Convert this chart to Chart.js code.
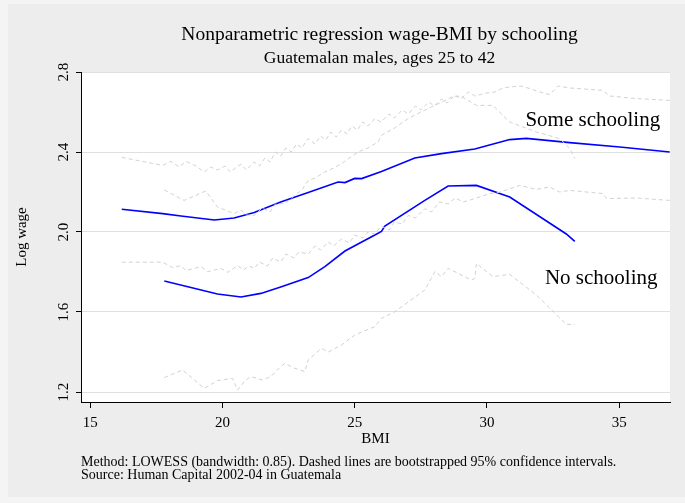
<!DOCTYPE html>
<html>
<head>
<meta charset="utf-8">
<script src="https://cdn.jsdelivr.net/npm/chart.js@4.4.0/dist/chart.umd.min.js"></script>
<style>
  html, body { margin: 0; padding: 0; background: #f4f4f4; }
  #wrap { width: 685px; height: 503px; }
</style>
</head>
<body>
<div id="wrap"><canvas id="lowessChart" width="685" height="503"></canvas></div>
<script>
// values (BMI, log wage)
const someBmi = [16.19, 17.74, 18.43, 19.69, 20.44, 21.2, 22.2, 23.24, 24.37, 24.63, 25.0, 25.26, 26.01, 27.27, 28.28, 29.54, 30.86, 31.49, 33.13, 35.02, 36.91];
const someWage = [2.114, 2.092, 2.08, 2.06, 2.07, 2.097, 2.15, 2.197, 2.25, 2.247, 2.268, 2.267, 2.302, 2.37, 2.392, 2.415, 2.462, 2.468, 2.447, 2.425, 2.40];

const noBmi = [17.8, 19.81, 20.7, 21.45, 22.2, 23.24, 23.87, 24.63, 25.76, 26.01, 26.14, 27.65, 28.53, 29.6, 30.86, 33.0, 33.32];
const noWage = [1.755, 1.69, 1.675, 1.693, 1.725, 1.772, 1.827, 1.905, 1.985, 2.003, 2.03, 2.158, 2.23, 2.233, 2.175, 1.99, 1.953];

const someHiBmi = [16.19, 17.74, 18.05, 18.36, 18.62, 19.0, 19.31, 19.55, 19.81, 20.1, 20.3, 20.44, 20.7, 20.9, 21.2, 21.4, 21.6, 21.8, 22.0, 22.2, 22.4, 22.6, 22.8, 23.0, 23.24, 23.5, 23.7, 23.9, 24.1, 24.3, 24.5, 24.7, 24.9, 25.1, 25.3, 25.5, 25.76, 26.0, 26.3, 26.5, 26.8, 27.02, 27.3, 27.5, 27.8, 28.0, 28.28, 28.5, 28.8, 29.0, 29.3, 29.54, 29.98, 30.3, 30.6, 30.86, 31.3, 31.62, 32.0, 32.37, 32.69, 33.13, 34.39, 34.64, 35.65, 36.91];
const someHiWage = [2.373, 2.333, 2.353, 2.325, 2.353, 2.33, 2.30, 2.325, 2.31, 2.33, 2.30, 2.315, 2.34, 2.31, 2.35, 2.33, 2.37, 2.35, 2.40, 2.38, 2.42, 2.40, 2.44, 2.42, 2.467, 2.44, 2.48, 2.46, 2.50, 2.475, 2.51, 2.49, 2.53, 2.51, 2.55, 2.53, 2.567, 2.55, 2.59, 2.57, 2.61, 2.59, 2.63, 2.61, 2.65, 2.63, 2.665, 2.645, 2.685, 2.665, 2.70, 2.68, 2.695, 2.70, 2.72, 2.725, 2.73, 2.717, 2.70, 2.687, 2.73, 2.72, 2.708, 2.68, 2.667, 2.658];

const someLoBmi = [16.19, 17.74, 18.11, 18.43, 18.62, 19.18, 19.44, 19.94, 20.19, 20.57, 20.8, 21.0, 21.2, 21.4, 21.7, 21.9, 22.2, 22.4, 22.7, 22.9, 23.24, 23.5, 23.7, 24.0, 24.2, 24.5, 24.8, 25.0, 25.3, 25.5, 25.76, 26.0, 26.3, 26.5, 26.8, 27.02, 27.3, 27.65, 27.9, 28.2, 28.53, 28.8, 29.1, 29.54, 30.1, 30.5, 31.24, 31.87, 32.37, 32.75, 33.13, 34.39, 34.52, 35.65, 36.91];
const someLoWage = [1.849, 1.849, 1.822, 1.832, 1.807, 1.827, 1.802, 1.818, 1.798, 1.832, 1.81, 1.83, 1.818, 1.85, 1.83, 1.87, 1.85, 1.89, 1.87, 1.90, 1.89, 1.93, 1.91, 1.95, 1.93, 1.965, 1.945, 1.985, 1.97, 2.00, 1.99, 2.03, 2.01, 2.05, 2.04, 2.083, 2.07, 2.117, 2.10, 2.15, 2.14, 2.17, 2.15, 2.167, 2.192, 2.20, 2.233, 2.213, 2.225, 2.2, 2.208, 2.192, 2.167, 2.17, 2.158];

const noHiBmi = [17.8, 18.55, 19.37, 19.81, 20.44, 20.7, 20.9, 21.2, 21.5, 21.8, 22.0, 22.36, 22.7, 23.0, 23.24, 23.5, 23.87, 24.2, 24.5, 24.8, 25.13, 25.5, 25.88, 26.01, 26.5, 27.02, 27.5, 27.9, 28.3, 28.66, 29.0, 29.6, 30.22, 30.86, 31.87, 32.75, 33.13, 33.32];
const noHiWage = [2.21, 2.158, 2.205, 2.125, 2.092, 2.11, 2.085, 2.083, 2.12, 2.10, 2.14, 2.142, 2.18, 2.21, 2.258, 2.27, 2.30, 2.32, 2.342, 2.37, 2.40, 2.42, 2.45, 2.483, 2.52, 2.567, 2.60, 2.625, 2.65, 2.675, 2.68, 2.633, 2.633, 2.55, 2.50, 2.467, 2.417, 2.367];

const noLoBmi = [17.8, 18.49, 19.31, 19.81, 20.38, 20.57, 20.82, 21.07, 21.51, 21.83, 22.2, 22.36, 22.7, 23.11, 23.24, 23.74, 24.0, 24.5, 25.0, 25.76, 26.01, 26.52, 27.65, 28.03, 28.28, 28.53, 29.41, 29.54, 29.6, 30.22, 30.86, 31.87, 33.0, 33.32];
const noLoWage = [1.272, 1.31, 1.218, 1.257, 1.268, 1.21, 1.252, 1.277, 1.26, 1.277, 1.327, 1.343, 1.32, 1.302, 1.36, 1.418, 1.40, 1.435, 1.485, 1.527, 1.568, 1.602, 1.71, 1.802, 1.777, 1.818, 1.76, 1.768, 1.843, 1.777, 1.788, 1.685, 1.538, 1.538];

const xTicks = [15, 20, 25, 30, 35];
const yTicks = [1.2, 1.6, 2.0, 2.4, 2.8];

const serif = "'Liberation Serif', 'Times New Roman', serif";

function pts(xs, ys) {
  return xs.map(function (x, i) { return { x: x, y: ys[i] }; });
}

function band(xs, ys) {
  return {
    data: pts(xs, ys),
    borderColor: "#d2d2d2",
    borderWidth: 1,
    borderDash: [4, 3],
    pointRadius: 0,
    fill: false,
    tension: 0,
  };
}

function fit(xs, ys) {
  return {
    data: pts(xs, ys),
    borderColor: "#0000ff",
    borderWidth: 1.6,
    pointRadius: 0,
    fill: false,
    tension: 0,
  };
}

// background, y labels, titles and notes
const decor = {
  id: "decor",
  beforeDraw: function (chart) {
    const c = chart.ctx;
    const a = chart.chartArea;
    c.save();
    c.fillStyle = "#ededed";
    c.fillRect(8, 4, chart.width - 8, chart.height - 10);
    c.fillStyle = "#ffffff";
    c.fillRect(a.left, a.top, a.right - a.left, a.bottom - a.top);
    c.restore();
  },
  afterDraw: function (chart) {
    const c = chart.ctx;
    const a = chart.chartArea;
    const xs = chart.scales.x;
    const ys = chart.scales.y;
    c.save();
    c.fillStyle = "#000000";
    c.textAlign = "center";
    c.textBaseline = "middle";

    const mid = (a.left + a.right) / 2;
    c.font = "19.5px " + serif;
    c.fillText("Nonparametric regression wage-BMI by schooling", mid + 4, 35);
    c.font = "17.5px " + serif;
    c.fillText("Guatemalan males, ages 25 to 42", mid + 4, 58);

    // y tick labels, rotated like the original
    c.font = "15px " + serif;
    yTicks.forEach(function (v) {
      c.save();
      c.translate(a.left - 17, ys.getPixelForValue(v));
      c.rotate(-Math.PI / 2);
      c.fillText(v.toFixed(1), 0, 0);
      c.restore();
    });

    c.save();
    c.translate(22, (a.top + a.bottom) / 2);
    c.rotate(-Math.PI / 2);
    c.fillText("Log wage", 0, 0);
    c.restore();

    c.fillText("BMI", mid, 439);

    c.font = "21px " + serif;
    c.fillText("Some schooling", xs.getPixelForValue(34.0), ys.getPixelForValue(2.557));
    c.fillText("No schooling", xs.getPixelForValue(34.32), ys.getPixelForValue(1.77));

    c.textAlign = "left";
    c.font = "14px " + serif;
    c.fillText("Method: LOWESS (bandwidth: 0.85). Dashed lines are bootstrapped 95% confidence intervals.", a.left, 462);
    c.fillText("Source: Human Capital 2002-04 in Guatemala", a.left, 475);
    c.restore();
  },
};

const ctx = document.getElementById("lowessChart").getContext("2d");
new Chart(ctx, {
  type: "line",
  data: {
    datasets: [
      band(someHiBmi, someHiWage),
      band(someLoBmi, someLoWage),
      band(noHiBmi, noHiWage),
      band(noLoBmi, noLoWage),
      fit(someBmi, someWage),
      fit(noBmi, noWage),
    ],
  },
  options: {
    responsive: false,
    animation: false,
    layout: { padding: { left: 0, right: 15, top: 72, bottom: 0 } },
    plugins: {
      legend: { display: false },
      tooltip: { enabled: false },
    },
    scales: {
      x: {
        type: "linear",
        min: 14.65,
        max: 36.92,
        afterFit: function (s) { s.height = 101; },
        border: { display: true, color: "#000000", width: 1 },
        grid: { display: true, drawOnChartArea: false, drawTicks: true, tickLength: 6, color: "#000000" },
        ticks: {
          includeBounds: false,
          stepSize: 5,
          color: "#000000",
          padding: 6,
          maxRotation: 0,
          font: { family: serif, size: 15 },
          callback: function (v) { return xTicks.indexOf(v) >= 0 ? String(v) : ""; },
        },
      },
      y: {
        type: "linear",
        min: 1.15,
        max: 2.8,
        afterFit: function (s) { s.width = 81; },
        border: { display: true, color: "#000000", width: 1 },
        grid: { color: "#e0e0e0", tickColor: "#000000", drawTicks: true, tickLength: 5 },
        ticks: {
          includeBounds: false,
          stepSize: 0.4,
          display: false,
        },
      },
    },
  },
  plugins: [decor],
});
</script>
</body>
</html>
